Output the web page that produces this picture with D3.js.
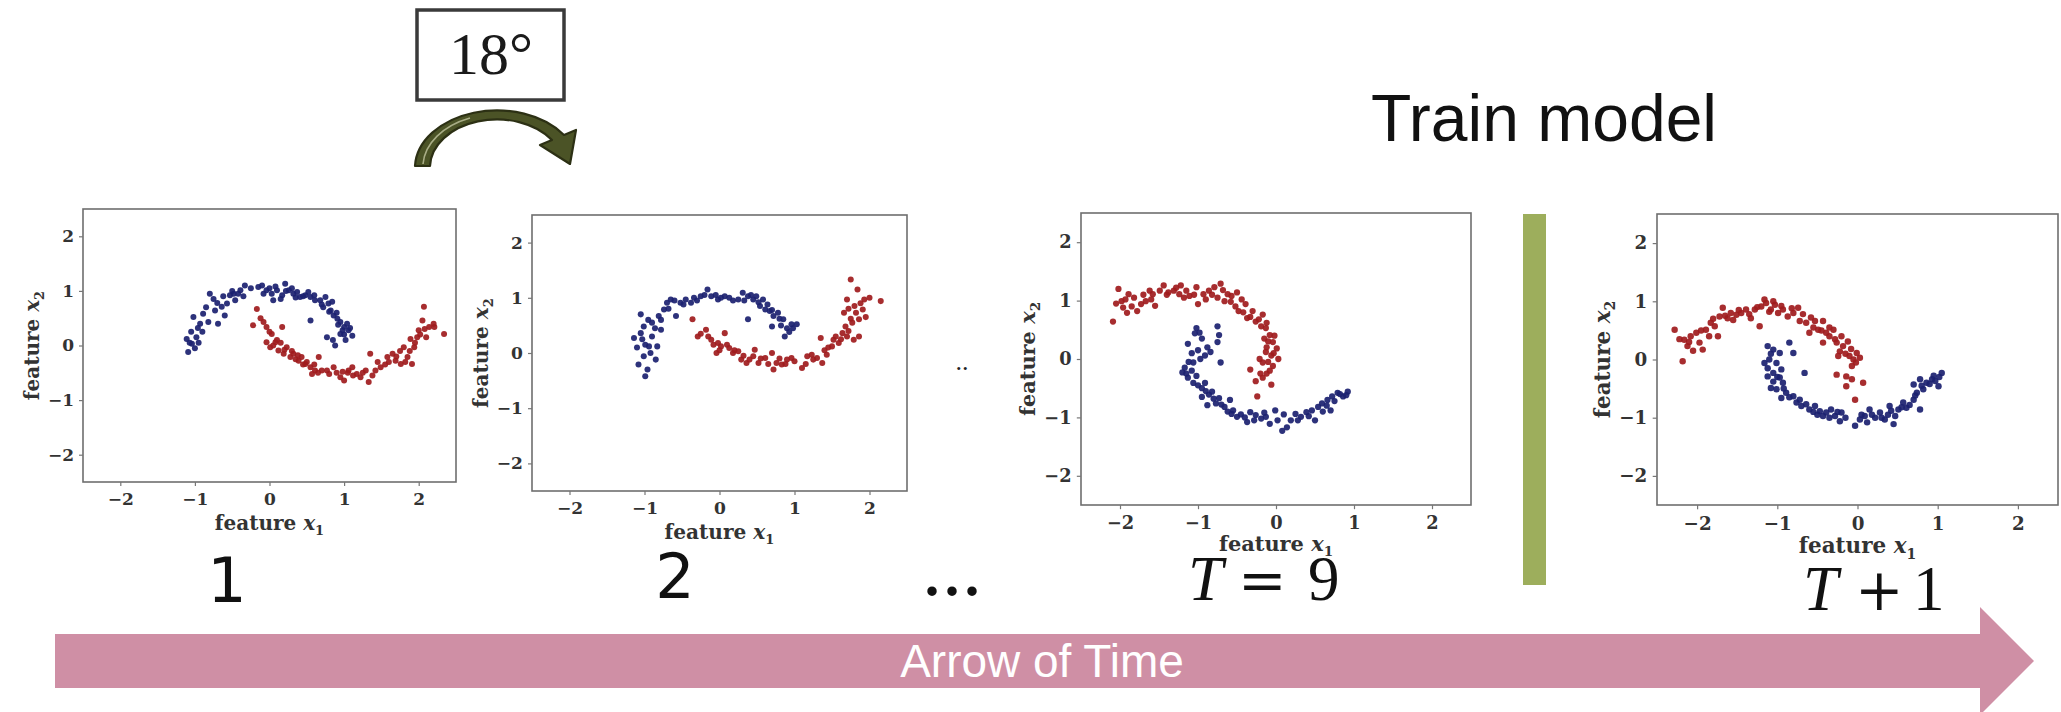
<!DOCTYPE html>
<html><head><meta charset="utf-8">
<script src="https://cdn.jsdelivr.net/npm/d3@7"></script>
<style>html,body{margin:0;padding:0;background:#fff;overflow:hidden}</style>
</head><body>
<svg id="c" width="2061" height="712"></svg>
<script>
// ---------- data (feature x1, feature x2) ----------
const p1Blue = [[-1.09,-0.12],[-1.11,0.12],[-1.04,0.03],[-0.98,0.15],[-0.93,0.40],[-1.02,0.52],[-0.89,0.58],[-0.82,0.43],[-0.80,0.95],[-0.73,0.64],[-0.69,0.40],[-0.64,0.71],[-0.57,0.77],[-0.53,0.92],[-0.46,0.83],[-0.39,1.01],[-0.33,1.10],[-0.48,0.95],[-0.15,1.07],[-0.08,0.95],[-0.04,1.01],[0.05,0.83],[0.10,1.01],[0.17,0.92],[0.21,1.13],[0.26,1.01],[0.32,0.95],[0.37,0.98],[0.41,0.89],[0.48,0.92],[0.55,0.89],[0.61,0.83],[0.68,0.83],[0.75,0.89],[0.79,0.77],[0.84,0.80],[0.82,0.64],[0.86,0.55],[0.91,0.49],[0.95,0.43],[1.00,0.34],[1.04,0.40],[1.06,0.28],[1.11,0.18],[0.95,0.21],[0.77,0.15],[0.88,0.00],[0.55,0.46],[-1.05,0.25],[-0.95,0.05],[-0.85,0.70],[-0.60,0.55],[-0.25,1.05],[0.00,1.05],[0.15,0.85],[0.45,0.90],[0.70,0.75],[0.90,0.60],[1.00,0.20],[-1.07,0.05],[-1.00,-0.05],[-0.90,0.25],[-0.96,0.32],[-0.75,0.85],[-0.62,0.90],[-0.42,0.95],[-0.35,0.90],[-0.10,1.10],[0.03,0.95],[0.08,1.08],[0.22,1.00],[0.30,1.05],[0.35,0.88],[0.52,0.98],[0.60,0.92],[0.72,0.70],[0.80,0.62],[0.92,0.38],[0.98,0.28],[1.08,0.32],[0.85,0.10],[1.02,0.10],[-0.70,0.78],[-0.50,1.00]];
const p1Red = [[-0.17,0.67],[-0.22,0.37],[-0.08,0.43],[-0.04,0.34],[0.03,0.21],[-0.04,0.06],[0.01,-0.03],[0.08,0.06],[0.17,0.34],[0.12,-0.09],[0.19,-0.15],[0.23,-0.03],[0.28,-0.21],[0.32,-0.15],[0.39,-0.28],[0.43,-0.21],[0.48,-0.34],[0.55,-0.40],[0.61,-0.46],[0.57,-0.52],[0.66,-0.21],[0.70,-0.46],[0.77,-0.46],[0.86,-0.40],[0.95,-0.58],[1.00,-0.64],[1.06,-0.46],[1.11,-0.40],[1.17,-0.52],[1.22,-0.58],[1.29,-0.46],[1.33,-0.67],[1.35,-0.15],[1.42,-0.46],[1.49,-0.40],[1.58,-0.21],[1.65,-0.15],[1.69,-0.28],[1.76,-0.34],[1.80,-0.03],[1.85,-0.21],[1.91,-0.34],[1.94,-0.03],[1.98,0.15],[2.05,0.46],[2.07,0.71],[2.00,0.28],[2.14,0.34],[2.21,0.34],[2.34,0.21],[1.89,0.12],[0.35,-0.25],[0.50,-0.30],[1.05,-0.50],[1.60,-0.30],[1.75,-0.10],[2.10,0.15],[0.10,0.10],[-0.12,0.50],[0.00,0.25],[0.05,0.00],[0.15,0.05],[0.20,-0.08],[0.30,-0.10],[0.38,-0.18],[0.45,-0.35],[0.60,-0.35],[0.65,-0.50],[0.80,-0.52],[0.90,-0.50],[0.98,-0.48],[1.12,-0.55],[1.25,-0.50],[1.38,-0.55],[1.45,-0.30],[1.55,-0.35],[1.70,-0.20],[1.82,-0.30],[1.88,-0.10],[1.95,0.05],[2.02,0.20],[2.08,0.30],[2.20,0.40]];
const p2Blue = [[-0.99,-0.42],[-1.08,-0.21],[-1.01,-0.06],[-0.94,0.12],[-1.14,0.27],[-1.05,0.36],[-0.99,0.15],[-0.92,0.00],[-0.85,-0.12],[-0.83,0.12],[-1.01,0.48],[-1.05,0.70],[-0.90,0.55],[-0.81,0.67],[-0.74,0.79],[-0.78,0.42],[-0.70,0.91],[-0.65,0.97],[-0.58,0.67],[-0.52,0.91],[-0.45,0.97],[-0.38,0.91],[-0.34,1.00],[-0.25,1.03],[-0.16,1.15],[-0.11,1.03],[-0.02,0.97],[0.07,1.03],[0.13,1.00],[0.25,0.97],[0.31,1.09],[0.38,1.03],[0.45,0.97],[0.49,1.03],[0.54,0.85],[0.58,0.97],[0.61,0.79],[0.67,0.76],[0.72,0.67],[0.78,0.73],[0.85,0.61],[0.90,0.45],[0.87,0.30],[0.96,0.52],[1.03,0.52],[0.70,0.48],[0.38,0.61],[-1.10,0.10],[-1.03,0.25],[-0.96,-0.30],[-0.90,0.30],[-0.86,0.45],[-0.95,0.60],[-0.78,0.60],[-0.68,0.80],[-0.60,0.95],[-0.48,0.88],[-0.30,0.95],[-0.20,1.05],[-0.05,1.05],[0.02,1.00],[0.18,0.95],[0.33,0.95],[0.42,1.05],[0.52,0.92],[0.64,0.88],[0.70,0.78],[0.80,0.62],[0.82,0.50],[0.93,0.38],[0.98,0.45]];
const p2Red = [[-0.36,0.61],[-0.29,0.30],[-0.18,0.42],[-0.11,0.24],[-0.02,0.18],[0.07,0.36],[-0.04,0.00],[0.02,0.12],[0.13,0.09],[0.18,0.00],[0.25,0.03],[0.29,-0.12],[0.36,-0.18],[0.45,-0.06],[0.47,0.06],[0.52,-0.18],[0.61,-0.09],[0.70,0.00],[0.72,-0.30],[0.76,-0.18],[0.83,-0.21],[0.90,-0.12],[0.96,-0.09],[1.10,-0.27],[1.17,-0.06],[1.23,-0.03],[1.30,-0.09],[1.35,0.27],[1.37,-0.18],[1.43,-0.03],[1.50,0.12],[1.52,0.24],[1.59,0.18],[1.64,0.36],[1.68,0.48],[1.70,0.30],[1.77,0.55],[1.82,0.73],[1.86,0.61],[1.91,0.79],[1.66,0.73],[1.70,0.97],[1.75,1.33],[1.84,1.15],[1.93,0.97],[2.00,1.00],[2.15,0.94],[1.86,0.30],[1.79,0.24],[-0.25,0.35],[-0.15,0.30],[-0.08,0.15],[0.00,0.05],[0.10,0.15],[0.20,0.05],[0.32,-0.05],[0.40,-0.12],[0.55,-0.10],[0.65,-0.20],[0.80,-0.10],[0.88,-0.20],[1.00,-0.15],[1.15,-0.20],[1.25,-0.12],[1.40,0.05],[1.45,0.10],[1.55,0.30],[1.62,0.25],[1.72,0.40],[1.75,0.62],[1.80,0.85],[1.72,0.80],[1.88,0.90],[1.95,0.65]];
const p3Red = [[-2.09,0.64],[-2.02,1.20],[-1.96,0.88],[-1.98,0.99],[-1.89,1.11],[-1.91,0.79],[-1.82,1.05],[-1.78,0.82],[-1.73,0.94],[-1.67,0.99],[-1.62,1.17],[-1.55,0.91],[-1.58,1.11],[-1.49,1.17],[-1.44,1.26],[-1.38,1.14],[-1.31,1.17],[-1.24,1.11],[-1.22,1.26],[-1.15,1.17],[-1.11,1.08],[-1.02,1.23],[-1.00,0.94],[-0.93,1.11],[-0.86,1.17],[-0.79,1.23],[-0.75,1.05],[-0.71,1.29],[-0.66,0.99],[-0.62,1.11],[-0.57,1.08],[-0.50,1.14],[-0.44,1.02],[-0.48,0.82],[-0.39,0.94],[-0.37,0.70],[-0.30,0.82],[-0.26,0.64],[-0.17,0.76],[-0.19,0.56],[-0.13,0.53],[-0.08,0.41],[-0.15,0.35],[-0.04,0.29],[0.01,0.18],[-0.06,0.06],[-0.13,0.12],[-0.17,-0.06],[-0.21,0.00],[0.03,0.00],[-0.04,-0.12],[-0.08,-0.20],[-0.33,-0.18],[-0.26,-0.38],[-0.17,-0.32],[-0.06,-0.44],[-0.24,-0.64],[-2.05,0.95],[-1.93,1.02],[-1.85,0.90],[-1.70,1.10],[-1.60,1.02],[-1.40,1.10],[-1.28,1.22],[-1.18,1.05],[-1.05,1.10],[-0.90,1.02],[-0.82,1.10],[-0.68,1.18],[-0.58,0.98],[-0.52,0.90],[-0.42,0.80],[-0.33,0.72],[-0.22,0.68],[-0.12,0.62],[-0.10,0.30],[-0.02,0.40],[-0.12,0.20],[-0.03,0.10],[-0.10,-0.05],[-0.20,-0.25],[-0.12,-0.25]];
const p3Blue = [[-1.02,0.53],[-1.04,0.44],[-0.95,0.35],[-1.13,0.26],[-0.88,0.20],[-0.75,0.56],[-0.73,0.41],[-0.75,0.29],[-0.84,0.12],[-0.91,0.06],[-0.97,0.00],[-1.06,-0.06],[-1.17,-0.15],[-1.20,-0.23],[-1.13,-0.32],[-1.06,-0.41],[-1.02,-0.29],[-0.95,-0.50],[-0.91,-0.41],[-0.86,-0.61],[-0.82,-0.56],[-0.88,-0.79],[-0.77,-0.76],[-0.73,-0.67],[-0.66,-0.82],[-0.59,-0.70],[-0.55,-0.88],[-0.50,-0.99],[-0.57,-0.94],[-0.37,-1.08],[-0.33,-0.91],[-0.26,-0.96],[-0.19,-1.02],[-0.13,-0.99],[-0.08,-1.11],[0.08,-1.23],[-0.01,-0.88],[0.14,-1.17],[0.19,-1.05],[0.25,-0.94],[0.32,-0.99],[0.39,-0.91],[0.46,-0.88],[0.50,-1.05],[0.54,-0.82],[0.59,-0.76],[0.66,-0.70],[0.72,-0.64],[0.79,-0.58],[0.86,-0.64],[0.92,-0.56],[0.70,-0.88],[-0.71,-0.06],[-0.98,0.45],[-1.08,0.10],[-1.00,0.15],[-1.12,-0.05],[-1.15,-0.25],[-1.08,-0.20],[-1.00,-0.45],[-0.90,-0.55],[-0.95,-0.65],[-0.80,-0.68],[-0.70,-0.78],[-0.62,-0.90],[-0.45,-0.95],[-0.40,-1.00],[-0.28,-1.05],[-0.15,-0.92],[0.02,-1.05],[0.10,-0.95],[0.28,-1.05],[0.42,-0.98],[0.60,-0.90],[0.65,-0.80],[0.75,-0.72],[0.82,-0.60],[0.90,-0.62]];
const p4Red = [[-2.28,0.51],[-2.18,-0.03],[-2.16,0.34],[-2.12,0.23],[-2.08,0.40],[-2.01,0.46],[-1.97,0.29],[-1.93,0.17],[-1.89,0.51],[-1.83,0.63],[-1.78,0.57],[-1.74,0.40],[-1.72,0.74],[-1.68,0.89],[-1.62,0.71],[-1.58,0.80],[-1.51,0.77],[-1.45,0.80],[-1.39,0.86],[-1.33,0.71],[-1.28,0.86],[-1.22,0.57],[-1.20,0.91],[-1.14,0.97],[-1.16,1.03],[-1.08,0.86],[-1.03,0.94],[-0.99,0.80],[-0.93,0.86],[-0.87,0.74],[-0.80,0.80],[-0.74,0.89],[-0.72,0.66],[-0.64,0.63],[-0.60,0.46],[-0.53,0.66],[-0.49,0.51],[-0.43,0.66],[-0.39,0.46],[-0.43,0.29],[-0.35,0.40],[-0.30,0.51],[-0.26,0.29],[-0.22,0.14],[-0.18,0.23],[-0.12,0.31],[-0.10,0.06],[-0.05,0.00],[-0.01,0.11],[0.03,0.03],[-0.07,-0.11],[-0.14,-0.29],[-0.07,-0.34],[0.07,-0.40],[-0.03,-0.69],[-0.26,-0.26],[-0.14,-0.46],[-0.24,0.06],[-2.22,0.35],[-2.10,0.30],[-2.05,0.15],[-1.95,0.50],[-1.85,0.40],[-1.80,0.70],[-1.65,0.75],[-1.55,0.68],[-1.48,0.85],[-1.35,0.78],[-1.25,0.90],[-1.10,0.82],[-1.05,1.00],[-0.95,0.92],[-0.82,0.88],[-0.68,0.78],[-0.58,0.72],[-0.55,0.55],[-0.45,0.50],[-0.35,0.55],[-0.28,0.35],[-0.20,0.40],[-0.15,0.10],[-0.08,0.18],[-0.02,-0.05]];
const p4Blue = [[-1.12,0.23],[-1.05,0.17],[-0.97,0.11],[-0.85,0.29],[-0.80,0.11],[-1.16,-0.06],[-1.10,0.00],[-1.01,-0.06],[-0.95,-0.17],[-1.05,-0.23],[-1.12,-0.29],[-0.97,-0.31],[-1.08,-0.49],[-1.01,-0.51],[-0.93,-0.40],[-0.89,-0.57],[-0.95,-0.66],[-0.80,-0.63],[-0.76,-0.74],[-0.72,-0.69],[-0.66,-0.23],[-0.64,-0.77],[-0.60,-0.86],[-0.53,-0.80],[-0.47,-0.89],[-0.43,-0.97],[-0.39,-0.91],[-0.33,-0.86],[-0.28,-0.97],[-0.22,-1.06],[-0.20,-0.91],[-0.03,-1.14],[0.03,-1.03],[0.09,-0.97],[0.15,-0.86],[0.22,-1.00],[0.28,-0.91],[0.34,-1.03],[0.40,-0.80],[0.45,-1.11],[0.47,-0.97],[0.51,-0.86],[0.57,-0.74],[0.61,-0.83],[0.70,-0.69],[0.74,-0.57],[0.78,-0.86],[0.82,-0.51],[0.86,-0.40],[0.93,-0.34],[0.97,-0.37],[1.01,-0.46],[1.05,-0.23],[0.70,-0.43],[0.78,-0.34],[-1.08,0.10],[-1.12,-0.15],[-1.00,-0.30],[-1.05,-0.38],[-0.92,-0.50],[-0.85,-0.65],[-0.70,-0.80],[-0.55,-0.90],[-0.50,-0.95],[-0.35,-1.00],[-0.25,-0.90],[-0.15,-1.00],[0.05,-0.95],[0.12,-1.08],[0.18,-0.95],[0.30,-1.00],[0.38,-0.95],[0.42,-0.88],[0.55,-0.82],[0.65,-0.78],[0.72,-0.62],[0.80,-0.45],[0.90,-0.42],[0.95,-0.28],[1.02,-0.30]];
const tickValues = [-2, -1, 0, 1, 2];
const axisDomain = [-2.5, 2.5];
const rotationLabel = "18°";
const trainLabel = "Train model";
const timeLabel = "Arrow of Time";

// ---------- drawing ----------
const svg = d3.select("#c");
const BLUE = "#1b2170", RED = "#a01b1d";

const panels = [
  {x:83,  y:209, w:373, h:273, lab:48, blue:p1Blue, red:p1Red},
  {x:532, y:215, w:375, h:276, lab:48, blue:p2Blue, red:p2Red},
  {x:1081,y:213, w:390, h:292, lab:44, blue:p3Blue, red:p3Red},
  {x:1657,y:214, w:401, h:291, lab:45, blue:p4Blue, red:p4Red}
];

panels.forEach(p => {
  const s = p.w / 373;
  const g = svg.append("g").attr("transform", `translate(${p.x},${p.y})`);
  const x = d3.scaleLinear().domain(axisDomain).range([0, p.w]);
  const y = d3.scaleLinear().domain(axisDomain).range([p.h, 0]);
  g.append("rect").attr("width", p.w).attr("height", p.h)
    .attr("fill", "#fff").attr("stroke", "#6e6e6e").attr("stroke-width", 1.6);

  const fmt = d3.format("");
  const xa = g.append("g").attr("transform", `translate(0,${p.h})`)
    .call(d3.axisBottom(x).tickValues(tickValues).tickFormat(fmt).tickSize(4*s).tickPadding(7*s));
  const ya = g.append("g")
    .call(d3.axisLeft(y).tickValues(tickValues).tickFormat(fmt).tickSize(4*s).tickPadding(5*s));
  [xa, ya].forEach(a => {
    a.select(".domain").remove();
    a.selectAll(".tick line").attr("stroke", "#777").attr("stroke-width", 1.2);
    a.selectAll(".tick text").attr("fill", "#333")
      .style("font-family", "'DejaVu Serif', serif").style("font-weight", "bold")
      .style("font-size", (17*s) + "px");
  });

  const dots = g.append("g");
  dots.selectAll("circle.b").data(p.blue).join("circle").attr("class", "b")
    .attr("cx", d => x(d[0])).attr("cy", d => y(d[1])).attr("r", 3.0*s)
    .attr("fill", BLUE).attr("fill-opacity", 0.92);
  dots.selectAll("circle.r").data(p.red).join("circle").attr("class", "r")
    .attr("cx", d => x(d[0])).attr("cy", d => y(d[1])).attr("r", 3.0*s)
    .attr("fill", RED).attr("fill-opacity", 0.92);

  const lab = (sel, sub) => {
    sel.style("font-family", "'DejaVu Serif', serif").style("font-weight", "bold")
      .style("font-size", (20*s) + "px").attr("fill", "#333").attr("text-anchor", "middle");
    sel.append("tspan").text("feature ");
    sel.append("tspan").attr("font-style", "italic").text("x");
    sel.append("tspan").attr("font-size", (13*s) + "px").attr("dy", 5*s).text(sub);
  };
  lab(g.append("text").attr("x", p.w/2).attr("y", p.h + p.lab*s), "1");
  lab(g.append("text").attr("transform", `translate(${-44*s},${p.h/2}) rotate(-90)`), "2");
});

// step labels
svg.append("text").attr("x", 227).attr("y", 602).attr("text-anchor", "middle")
  .style("font-family", "'DejaVu Sans', sans-serif").style("font-size", "62px").attr("fill", "#111").text("1");
svg.append("text").attr("x", 675).attr("y", 598).attr("text-anchor", "middle")
  .style("font-family", "'DejaVu Sans', sans-serif").style("font-size", "62px").attr("fill", "#111").text("2");
svg.append("text").attr("x", 922).attr("y", 595)
  .style("font-family", "'Liberation Serif', serif").style("font-size", "80px").attr("fill", "#111").text("...");
svg.append("text").attr("x", 955.5).attr("y", 370)
  .style("font-family", "'Liberation Serif', serif").style("font-size", "26px").attr("fill", "#222").text("..");

function mathLabel(parts, baseline) {
  const t = svg.append("text").attr("y", baseline).attr("fill", "#111");
  parts.forEach(pt => {
    t.append("tspan").attr("x", pt.x)
      .style("font-family", pt.op ? "'DejaVu Serif', serif" : "'Liberation Serif', serif")
      .style("font-style", pt.it ? "italic" : "normal")
      .style("font-size", (pt.op ? 58 : 63) + "px").text(pt.t);
  });
}
mathLabel([{t:"T", x:1188, it:true}, {t:"=", x:1238, op:true}, {t:"9", x:1308}], 600);
mathLabel([{t:"T", x:1803, it:true}, {t:"+", x:1855, op:true}, {t:"1", x:1913}], 610);

// rotation box + curved arrow
svg.append("rect").attr("x", 417).attr("y", 10).attr("width", 147).attr("height", 90)
  .attr("fill", "#fff").attr("stroke", "#3a3a3a").attr("stroke-width", 3.5);
svg.append("text").attr("x", 491).attr("y", 74).attr("text-anchor", "middle")
  .style("font-family", "'Liberation Serif', serif").style("font-size", "60px").attr("fill", "#1a1a1a").text(rotationLabel);
svg.append("path")
  .attr("d", "M415,166 A82,58 0 0 1 564,135 L576,130 L570,164 L540,145 L552,140 A67,48 0 0 0 430,166 Z")
  .attr("fill", "#4b5326").attr("stroke", "#2c3014").attr("stroke-width", 2.2).attr("stroke-linejoin", "round");
svg.append("path")
  .attr("d", "M423,164 A74.5,53 0 0 1 470,118")
  .attr("fill", "none").attr("stroke", "#a9ad86").attr("stroke-width", 1.6);

// "Train model" + green separator
svg.append("text").attr("x", 1371).attr("y", 141)
  .style("font-family", "'Liberation Sans', Arial, sans-serif").style("font-size", "66px").attr("fill", "#111").text(trainLabel);
svg.append("rect").attr("x", 1523).attr("y", 214).attr("width", 23).attr("height", 371).attr("fill", "#9dae5c");

// arrow of time
svg.append("path").attr("d", "M55,634 L1980,634 L1980,607 L2034,661 L1980,715 L1980,688 L55,688 Z")
  .attr("fill", "#cf8fa5");
svg.append("text").attr("x", 1042).attr("y", 677).attr("text-anchor", "middle")
  .style("font-family", "'Liberation Sans', Arial, sans-serif").style("font-size", "46px").attr("fill", "#fff").text(timeLabel);
</script>
</body></html>
